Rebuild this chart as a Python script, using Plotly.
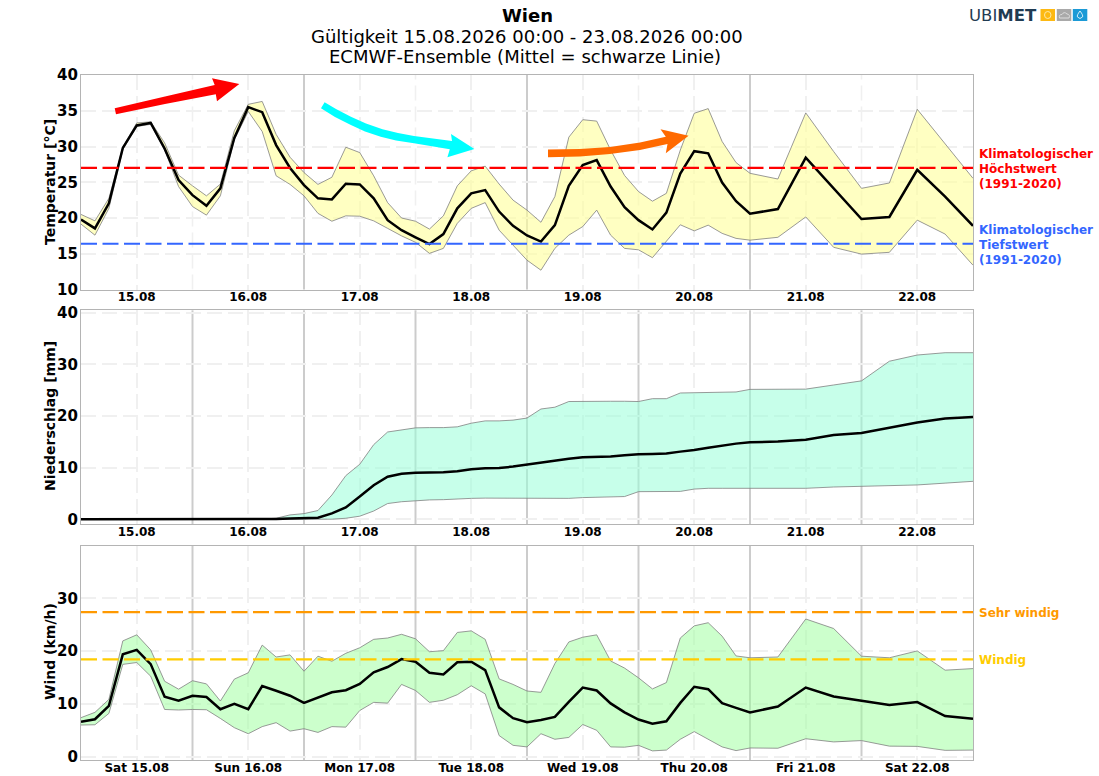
import pandas as pd
import plotly.graph_objects as go
from plotly.subplots import make_subplots

# 3-hourly up to 21.08 00:00, afterwards 6-hourly
times = list(pd.date_range("2026-08-15 00:00", "2026-08-21 00:00", freq="3h")) + \
    list(pd.date_range("2026-08-21 06:00", "2026-08-23 00:00", freq="6h"))

temp_mean = [19.8, 18.55, 22.05, 29.8, 32.95, 33.3, 29.7, 25.3, 23.2, 21.7, 24.15, 31.2, 35.5, 34.8, 30.2, 27.0,
             24.6, 22.75, 22.6, 24.8, 24.7, 22.75, 19.7, 18.3, 17.3, 16.35, 17.75, 21.35, 23.45, 23.9, 20.9, 18.9,
             17.55, 16.7, 19.0, 24.5, 27.4, 28.1, 24.4, 21.5, 19.7, 18.4, 20.75, 26.2, 29.35, 29.05, 24.95, 22.35,
             20.6, 21.25, 28.45, 24.15, 19.85, 20.15, 26.75, 23.0, 18.9]
temp_high = [20.5, 19.6, 22.75, 29.9, 33.3, 33.45, 30.5, 26.0, 24.5, 23.1, 24.75, 32.2, 35.9, 36.3, 31.7, 28.5,
             26.35, 24.7, 25.7, 29.9, 29.15, 25.9, 22.15, 20.0, 19.55, 18.45, 20.3, 24.5, 26.6, 27.25, 24.75, 22.5,
             21.1, 19.4, 23.0, 31.3, 33.75, 33.55, 29.5, 25.95, 23.7, 22.35, 23.45, 29.5, 34.65, 35.3, 30.7, 27.75,
             26.25, 25.45, 34.7, 29.3, 24.15, 24.9, 35.2, 30.45, 25.55]
temp_low = [19.15, 17.6, 21.35, 29.55, 32.8, 33.1, 29.55, 24.4, 21.6, 20.4, 23.1, 30.95, 34.9, 32.1, 25.9, 24.7,
            23.1, 20.65, 19.55, 20.3, 20.25, 19.6, 18.55, 17.5, 16.6, 15.05, 15.75, 19.25, 21.35, 22.15, 18.3, 16.2,
            14.1, 12.7, 15.75, 17.6, 18.8, 21.1, 17.6, 15.75, 15.55, 14.45, 16.7, 19.05, 18.2, 19.0, 17.85, 17.15,
            16.9, 17.3, 20.15, 15.9, 14.95, 15.2, 19.7, 17.75, 13.4]

rain_mean = [0, 0, 0, 0, 0, 0, 0, 0, 0, 0, 0, 0, 0, 0.02, 0.05, 0.15,
             0.2, 0.3, 1.15, 2.3, 4.4, 6.6, 8.25, 8.8, 9.0, 9.05, 9.1, 9.3, 9.7, 9.9, 9.95, 10.2,
             10.6, 11.0, 11.35, 11.7, 12.0, 12.05, 12.15, 12.4, 12.6, 12.65, 12.75, 13.1, 13.4, 13.85, 14.3, 14.65,
             14.9, 15.05, 15.4, 16.3, 16.7, 17.75, 18.75, 19.5, 19.8]
rain_high = [0, 0, 0, 0, 0, 0, 0, 0, 0, 0, 0, 0, 0, 0.05, 0.2, 0.85,
             1.1, 1.7, 4.7, 8.45, 10.65, 14.45, 16.9, 17.3, 17.7, 17.75, 17.75, 17.9, 18.6, 19.05, 19.05, 19.2,
             19.6, 21.35, 21.7, 22.8, 22.85, 22.85, 22.85, 22.85, 22.8, 23.35, 23.35, 24.45, 24.5, 24.5, 24.55, 24.65,
             25.15, 25.15, 25.2, 26.0, 26.8, 30.6, 31.8, 32.25, 32.25]
rain_low = [0, 0, 0, 0, 0, 0, 0, 0, 0, 0, 0, 0, 0, 0, 0, 0,
            0, 0, 0.02, 0.2, 0.6, 1.6, 3.05, 3.4, 3.6, 3.75, 3.8, 3.95, 4.05, 4.1, 4.1, 4.1,
            4.1, 4.1, 4.0, 4.05, 4.2, 4.25, 4.4, 4.4, 5.35, 5.4, 5.4, 5.4, 5.85, 6.0, 6.0, 6.0,
            6.0, 6.0, 6.0, 6.25, 6.4, 6.5, 6.65, 7.0, 7.35]

wind_mean = [6.6, 7.1, 9.65, 19.4, 20.25, 17.55, 11.35, 10.6, 11.55, 11.3, 9.0, 10.0, 9.0, 13.4, 12.5, 11.55,
             10.2, 11.15, 12.2, 12.6, 13.8, 16.0, 17.0, 18.5, 18.0, 15.9, 15.6, 17.9, 18.0, 16.4, 9.35, 7.3,
             6.55, 6.95, 7.55, 10.4, 13.1, 12.55, 10.1, 8.4, 7.05, 6.25, 6.7, 10.2, 13.25, 12.8, 10.15, 9.25,
             8.4, 9.5, 13.1, 11.4, 10.55, 9.8, 10.35, 7.7, 7.2]
wind_high = [7.4, 8.4, 10.85, 21.95, 23.1, 20.25, 14.3, 12.8, 14.4, 13.8, 10.55, 14.7, 15.9, 21.15, 18.9, 19.3,
             16.2, 19.05, 18.1, 19.6, 20.65, 22.25, 22.5, 23.2, 22.35, 19.9, 20.1, 23.55, 23.85, 22.25, 14.75, 13.7,
             12.45, 12.2, 17.65, 21.75, 22.65, 23.1, 18.15, 16.8, 14.95, 12.85, 14.05, 22.5, 24.8, 25.4, 22.85, 19.1,
             18.75, 18.9, 26.1, 24.3, 19.05, 18.75, 20.05, 16.4, 16.7]
wind_low = [6.0, 6.05, 8.2, 17.5, 17.85, 15.25, 8.95, 8.85, 8.95, 8.9, 7.25, 5.5, 4.35, 5.7, 6.45, 4.85,
            5.3, 4.6, 5.7, 5.6, 8.75, 10.3, 10.15, 13.7, 12.55, 10.3, 10.7, 11.75, 13.45, 11.9, 4.0, 2.15,
            1.85, 4.35, 3.3, 3.65, 6.1, 5.0, 1.85, 1.8, 2.15, 1.1, 1.25, 3.3, 4.75, 3.35, 1.85, 1.15,
            1.65, 1.6, 3.4, 2.8, 3.05, 2.0, 1.95, 1.2, 1.25]

noon_ticks = ["2026-08-%02d 12:00" % d for d in range(15, 23)]
date_labels = ["15.08", "16.08", "17.08", "18.08", "19.08", "20.08", "21.08", "22.08"]
day_labels = ["Sat 15.08", "Sun 16.08", "Mon 17.08", "Tue 18.08", "Wed 19.08", "Thu 20.08", "Fri 21.08", "Sat 22.08"]
midnights_all = ["2026-08-%02d 00:00" % d for d in range(16, 23)]
midnights_two = ["2026-08-17 00:00", "2026-08-19 00:00", "2026-08-21 00:00"]

W, H = 1099, 776
FONT = "DejaVu Sans"
GRID = "#f0f0f0"
x_start, x_end = "2026-08-15 00:00", "2026-08-23 00:00"


def px(x, y):
    # page pixels to paper coords, margins are zero so this is direct
    return x / W, 1 - y / H


def pt(x, y):
    a, b = px(x, y)
    return "%.5f,%.5f" % (a, b)


def poly(points):
    return "M" + " L".join(pt(x, y) for x, y in points) + " Z"


def axref(letter, n):
    return letter if n == 1 else "%s%d" % (letter, n)


fig = make_subplots(rows=3, cols=1)

panels = [
    dict(mean=temp_mean, high=temp_high, low=temp_low, fill="rgba(255,255,153,0.6)", top=75, bottom=289.5,
         rng=[10, 40], ticks=[10, 15, 20, 25, 30, 35, 40], labels=date_labels, dark=midnights_two),
    dict(mean=rain_mean, high=rain_high, low=rain_low, fill="rgba(153,255,217,0.55)", top=310.3, bottom=524.3,
         rng=[-0.97, 40.46], ticks=[0, 10, 20, 30, 40], labels=date_labels, dark=midnights_all),
    dict(mean=wind_mean, high=wind_high, low=wind_low, fill="rgba(153,255,153,0.5)", top=545.7, bottom=760,
         rng=[-0.63, 40], ticks=[0, 10, 20, 30], labels=day_labels, dark=midnights_all),
]

for n, p in enumerate(panels, start=1):
    fig.add_trace(go.Scatter(x=times, y=p["high"], mode="lines", line=dict(color="#808080", width=0.8)), row=n, col=1)
    fig.add_trace(go.Scatter(x=times, y=p["low"], mode="lines", line=dict(color="#808080", width=0.8),
                             fill="tonexty", fillcolor=p["fill"]), row=n, col=1)
    fig.add_trace(go.Scatter(x=times, y=p["mean"], mode="lines", line=dict(color="black", width=2.5)), row=n, col=1)
    fig.update_xaxes(domain=[81 / W, 973 / W], range=[x_start, x_end], type="date",
                     tickmode="array", tickvals=noon_ticks, ticktext=p["labels"], ticklabelstandoff=-4,
                     tickfont=dict(family=FONT, size=12, color="black", weight="bold"),
                     showgrid=True, gridcolor=GRID, griddash="15px,6px", gridwidth=1.5,
                     showline=True, mirror=True, linecolor="#b4b4b4", linewidth=1.2, ticks="", zeroline=False,
                     automargin=False, row=n, col=1)
    fig.update_yaxes(domain=[1 - p["bottom"] / H, 1 - p["top"] / H], range=p["rng"],
                     tickmode="array", tickvals=p["ticks"], ticklabelstandoff=-1,
                     tickfont=dict(family=FONT, size=15, color="black", weight="bold"),
                     showgrid=True, gridcolor=GRID, griddash="15px,6px", gridwidth=1.5,
                     showline=True, mirror=True, linecolor="#b4b4b4", linewidth=1.2, ticks="", zeroline=False,
                     automargin=False, row=n, col=1)
    # midnight lines: solid where the panel marks them, light dashed otherwise
    for d in midnights_all:
        if d in p["dark"]:
            style = dict(color="#cccccc", width=2)
        else:
            style = dict(color=GRID, width=1.5, dash="15px,6px")
        fig.add_shape(type="line", x0=d, x1=d, y0=0, y1=1, xref=axref("x", n), yref=axref("y", n) + " domain",
                      layer="below", line=style)

# threshold lines, labels are stacked one line at a time for the reference's 15px line pitch
thresholds = [
    (1, 27.0, "#ff0000", ["Klimatologischer", "Höchstwert", "(1991-2020)"]),
    (1, 16.4, "#3366ff", ["Klimatologischer", "Tiefstwert", "(1991-2020)"]),
    (3, 27.4, "#ff9900", ["Sehr windig"]),
    (3, 18.45, "#ffcc00", ["Windig"]),
]
for row, val, col, lines in thresholds:
    fig.add_trace(go.Scatter(x=[x_start, x_end], y=[val, val], mode="lines",
                             line=dict(color=col, width=2.2, dash="16px,5.5px")), row=row, col=1)
    for i, txt in enumerate(lines):
        fig.add_annotation(x=979 / W, xref="paper", y=val, yref=axref("y", row), text=txt, showarrow=False,
                           xanchor="left", yanchor="middle", align="left", xshift=-2,
                           yshift=-1 - (i - (len(lines) - 1) / 2) * 15,
                           font=dict(family=FONT, size=12, color=col, weight="bold"))

# title block
title_lines = [("Wien", 527, 15, "bold"), ("Gültigkeit 15.08.2026 00:00 - 23.08.2026 00:00", 527, 36, "normal"),
               ("ECMWF-Ensemble (Mittel = schwarze Linie)", 524.5, 57, "normal")]
for txt, x, y, weight in title_lines:
    fig.add_annotation(x=x / W, y=1 - y / H, xref="paper", yref="paper", text=txt, showarrow=False,
                       xanchor="center", yanchor="middle", font=dict(family=FONT, size=18, color="black", weight=weight))

y_titles = [("Temperatur [°C]", 182), ("Niederschlag [mm]", 416), ("Wind (km/h)", 652)]
for txt, y in y_titles:
    fig.add_annotation(x=50 / W, y=1 - y / H, xref="paper", yref="paper", text=txt, showarrow=False, textangle=-90,
                       xanchor="center", yanchor="middle", font=dict(family=FONT, size=14, color="black", weight="bold"))

# hand drawn trend arrows, outlines traced in page pixels
arrows = [
    ("#ff0000", poly([(114.7, 108.3), (165, 96.5), (214.7, 85), (212, 78.3), (239.3, 84), (217, 101.3),
                      (215.8, 94.3), (165, 104), (116, 114.3)])),
    ("#00ffff", poly([(324.6, 102.3), (336, 109), (350.9, 116.7), (366, 123.5), (382.5, 129.3), (398, 133), (414, 136),
                      (452, 141), (451, 134), (474.4, 149), (447.4, 157.3), (449.8, 149.3), (414, 143.3), (396, 140.5),
                      (380.7, 136.7), (365, 131.5), (350.9, 125), (335, 117), (321, 108.3)])),
    ("#ff6a00", poly([(548, 149.5), (580, 149), (610, 147), (640, 142.5), (665.8, 136.7), (660.5, 129.3), (688.6, 135.7),
                      (665.8, 153.3), (667.5, 144), (640, 150), (610, 154), (580, 156.5), (548, 157.3)])),
]
for col, path in arrows:
    fig.add_shape(type="path", path=path, xref="paper", yref="paper", fillcolor=col, line=dict(width=0), layer="above")

# logo
fig.add_annotation(x=967 / W, y=1 - 15 / H, xref="paper", yref="paper", text="UBI<b>MET</b>", showarrow=False,
                   xanchor="left", yanchor="middle", font=dict(family=FONT, size=16.5, color="#1f3b52"))
logo_boxes = [(1040.5, "#fdb913"), (1056.8, "#a9a9a9"), (1072.8, "#1b9ad6")]
for x0, col in logo_boxes:
    a0, b0 = px(x0, 9)
    a1, b1 = px(x0 + 14.5, 21)
    fig.add_shape(type="rect", x0=a0, x1=a1, y0=b1, y1=b0, xref="paper", yref="paper", fillcolor=col, line=dict(width=0))
a0, b0 = px(1044.5, 11.5)
a1, b1 = px(1051, 18.5)
fig.add_shape(type="circle", x0=a0, x1=a1, y0=b1, y1=b0, xref="paper", yref="paper", line=dict(color="#ffe9a8", width=1))
fig.add_shape(type="path", xref="paper", yref="paper", line=dict(color="#dddddd", width=1),
              path="M" + pt(1059.5, 18) + " Q" + pt(1058.5, 14.5) + " " + pt(1062, 14.5) + " Q" + pt(1064, 11) + " "
              + pt(1067, 14) + " Q" + pt(1070.5, 14.5) + " " + pt(1069, 18) + " Z")
fig.add_shape(type="path", xref="paper", yref="paper", line=dict(color="#d5eefa", width=1),
              path="M" + pt(1080, 11) + " Q" + pt(1083.5, 15.5) + " " + pt(1082.5, 17) + " Q" + pt(1080, 20) + " "
              + pt(1077.5, 17) + " Q" + pt(1076.5, 15.5) + " " + pt(1080, 11) + " Z")

fig.update_layout(width=W, height=H, margin=dict(l=0, r=0, t=0, b=0), showlegend=False,
                  paper_bgcolor="white", plot_bgcolor="white", font=dict(family=FONT))

fig.write_html("out.html", config={"displayModeBar": False}, post_script="document.body.style.margin='0';")
